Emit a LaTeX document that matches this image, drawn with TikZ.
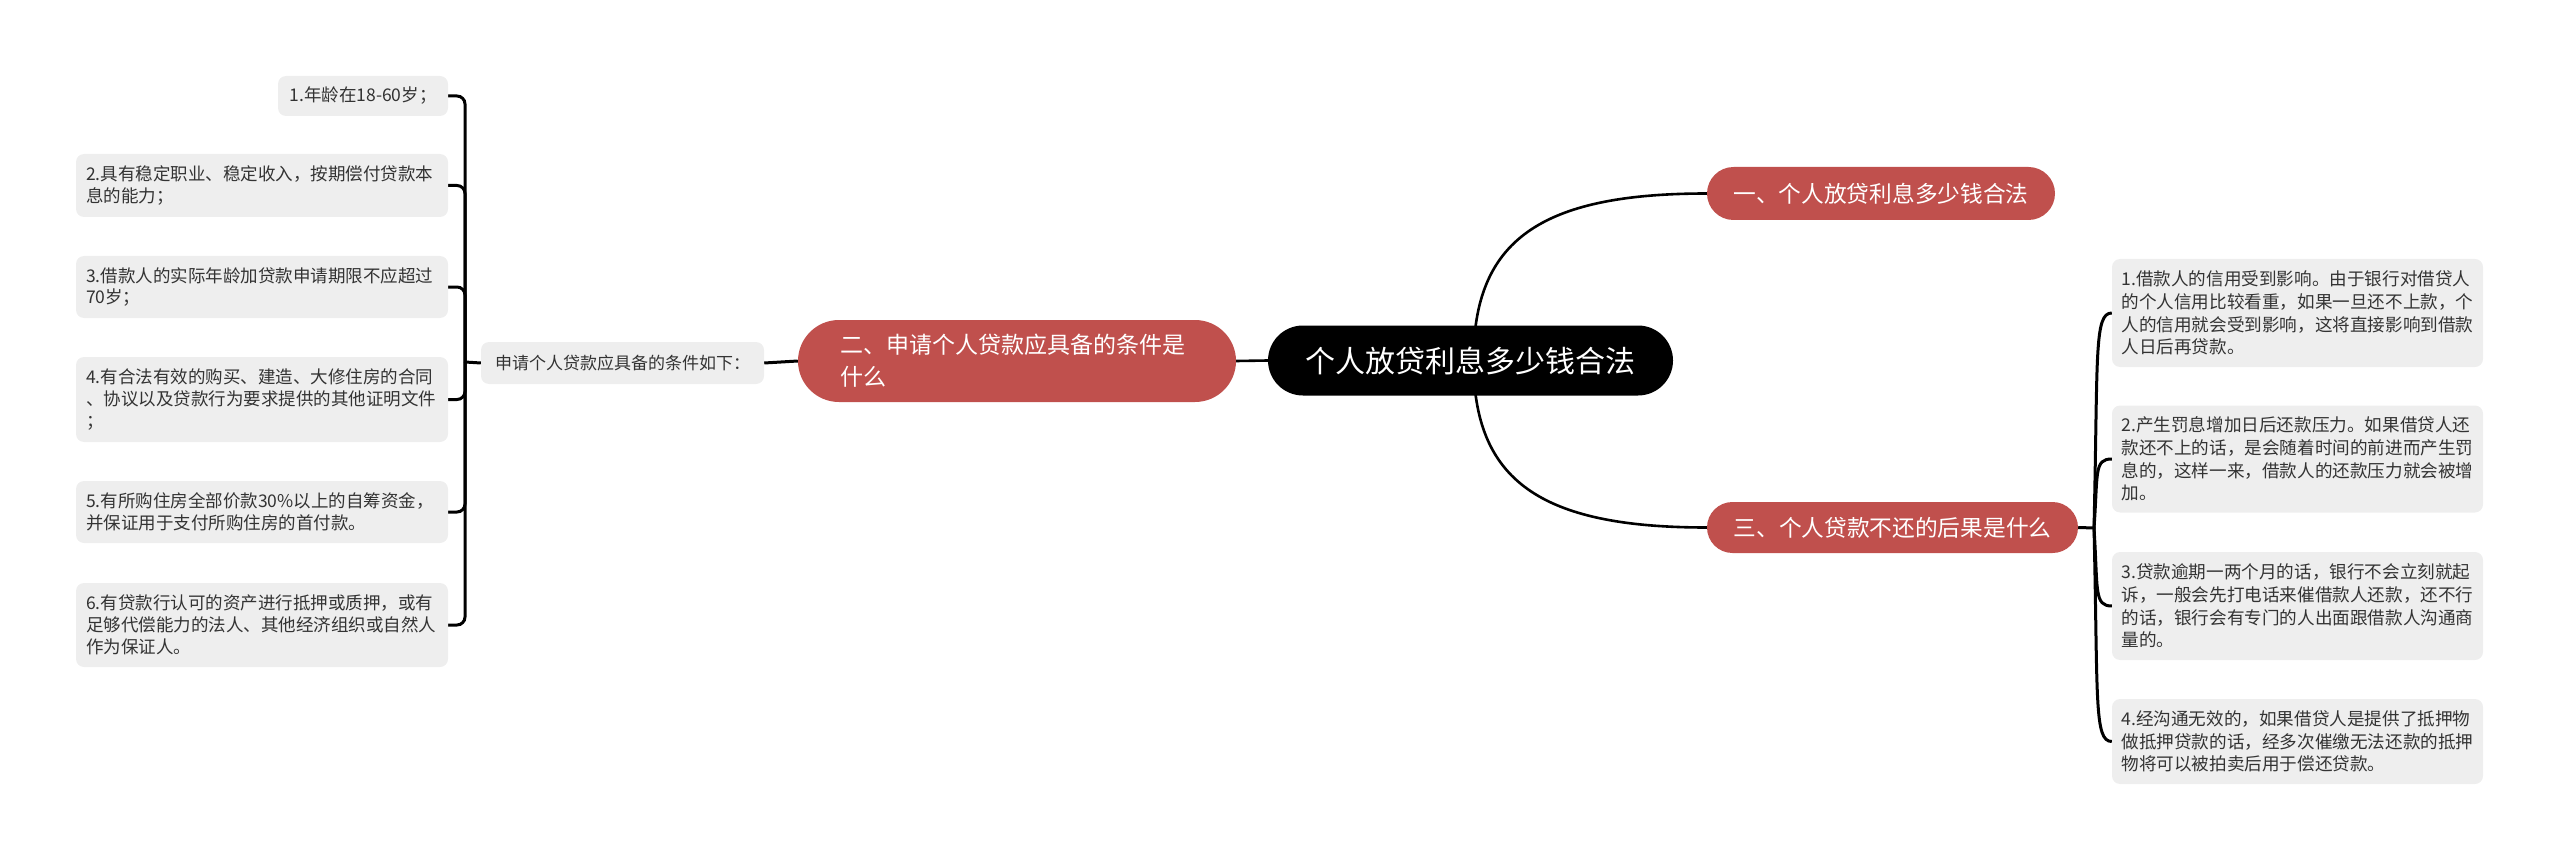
\documentclass[tikz,border=0pt]{standalone}
\usepackage{fontspec}
\setmainfont{Noto Sans CJK SC}
\usetikzlibrary{backgrounds}
\definecolor{redn}{RGB}{192,80,77}
\definecolor{leafbg}{RGB}{238,238,238}
\definecolor{leaftx}{RGB}{51,51,51}
\begin{document}
\begin{tikzpicture}[x=1pt,y=-1pt,
  leafbox/.style={fill=leafbg, rounded corners=8pt, text=leaftx, inner xsep=10pt, inner ysep=0pt, align=left},
  leafL/.style={leafbox, text width=352pt, minimum width=372pt, font=\fontsize{17.5}{21.7}\selectfont},
  leafR/.style={leafbox, inner xsep=9.5pt, text width=352pt, minimum width=371pt, font=\fontsize{17.6}{22.7}\selectfont},
  redbox/.style={fill=redn, text=white, inner sep=0pt},
  rootbox/.style={fill=black, text=white, inner sep=0pt, rounded corners=35pt, minimum width=405pt, minimum height=70pt, font=\fontsize{30}{36}\selectfont},
  link/.style={draw=black, line width=2.6pt},
  brk/.style={draw=black, line width=3pt}
]
\useasboundingbox (0,0) rectangle (2560,861);

% central and branch nodes
\node[rootbox] (root) at (1470.5,360.5) {个人放贷利息多少钱合法};
\node[redbox, minimum width=348pt, minimum height=53pt, rounded corners=26.5pt, font=\fontsize{22.7}{27}\selectfont] (n1) at (1881,193.5) {一、个人放贷利息多少钱合法};
\node[redbox, minimum width=371pt, minimum height=51pt, rounded corners=25.5pt, font=\fontsize{22.7}{27}\selectfont] (n3) at (1892.5,527.5) {三、个人贷款不还的后果是什么};
\node[redbox, minimum width=438pt, minimum height=82pt, rounded corners=41pt, text width=354pt, align=left, font=\fontsize{23}{32}\selectfont] (n2) at (1017,361) {二、申请个人贷款应具备的条件是\\什么};

% label
\node[leafbox, minimum width=283pt, minimum height=42pt, font=\fontsize{17}{21}\selectfont] (lab) at (622.5,363) {申请个人贷款应具备的条件如下：};

% left leaves
\node[leafbox, minimum width=170pt, minimum height=40pt, font=\fontsize{17.5}{21.7}\selectfont] (L1) at (363,96) {1.年龄在18-60岁；};
\node[leafL, minimum height=63pt] (L2) at (262,185.5) {2.具有稳定职业、稳定收入，按期偿付贷款本\\息的能力；};
\node[leafL, minimum height=62pt] (L3) at (262,287) {3.借款人的实际年龄加贷款申请期限不应超过\\70岁；};
\node[leafL, minimum height=85pt] (L4) at (262,399.5) {4.有合法有效的购买、建造、大修住房的合同\\、协议以及贷款行为要求提供的其他证明文件\\；};
\node[leafL, minimum height=62pt] (L5) at (262,512) {5.有所购住房全部价款30\%以上的自筹资金，\\并保证用于支付所购住房的首付款。};
\node[leafL, minimum height=84pt] (L6) at (262,625) {6.有贷款行认可的资产进行抵押或质押，或有\\足够代偿能力的法人、其他经济组织或自然人\\作为保证人。};

% right leaves
\node[leafR, minimum height=108pt] (R1) at (2297.5,313) {1.借款人的信用受到影响。由于银行对借贷人\\的个人信用比较看重，如果一旦还不上款，个\\人的信用就会受到影响，这将直接影响到借款\\人日后再贷款。};
\node[leafR, minimum height=107pt] (R2) at (2297.5,459) {2.产生罚息增加日后还款压力。如果借贷人还\\款还不上的话，是会随着时间的前进而产生罚\\息的，这样一来，借款人的还款压力就会被增\\加。};
\node[leafR, minimum height=108pt] (R3) at (2297.5,606) {3.贷款逾期一两个月的话，银行不会立刻就起\\诉，一般会先打电话来催借款人还款，还不行\\的话，银行会有专门的人出面跟借款人沟通商\\量的。};
\node[leafR, minimum height=85pt] (R4) at (2297.5,741.5) {4.经沟通无效的，如果借贷人是提供了抵押物\\做抵押贷款的话，经多次催缴无法还款的抵押\\物将可以被拍卖后用于偿还贷款。};

\coordinate (bl) at (465,362);
\coordinate (br) at (2094,528);

\begin{scope}[on background layer]
  \draw[link] ([xshift=3pt]root.center) .. controls +(0,-120) and +(-167,0) .. (n1.west);
  \draw[link] ([xshift=3pt]root.center) .. controls +(0,120) and +(-167,0) .. (n3.west);
  \draw[link] (root.west) -- (n2.east);
  \draw[brk] (n2.west) -- (lab.east);
  \draw[brk] (lab.west) -- (bl);
  \foreach \n in {L1,L2,L3,L4,L5,L6}
    \draw[brk, rounded corners=8pt] (bl) |- (\n.east);
  \draw[brk] (n3.east) -- (br);
  \foreach \n/\d in {R1/-215,R2/-69,R3/78,R4/213.5}
    \draw[brk] (br) .. controls +(4,{0.8*\d}) and +(-18,0) .. (\n.west);
\end{scope}
\end{tikzpicture}
\end{document}
